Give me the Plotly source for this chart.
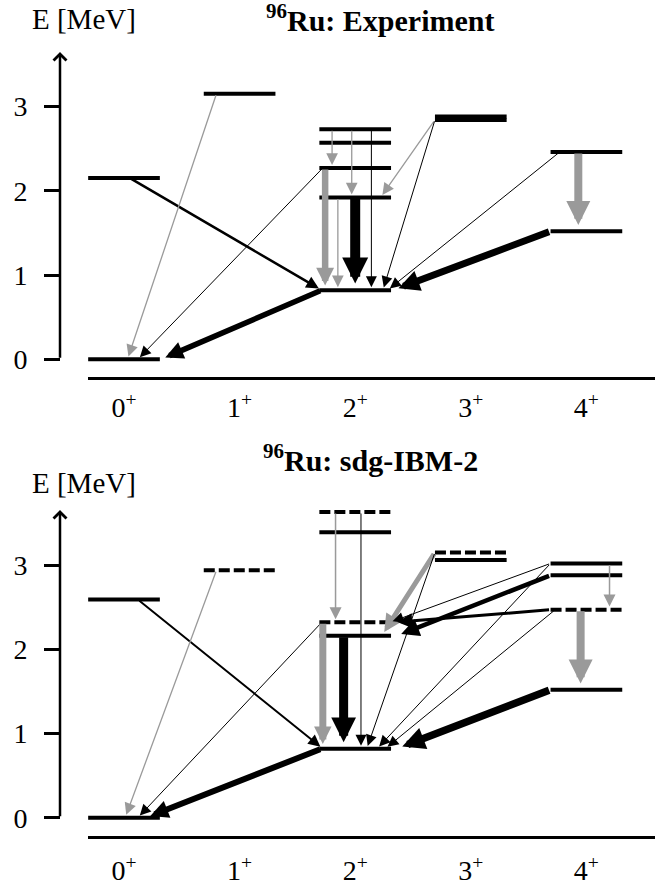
import plotly.graph_objects as go

W, H = 655, 886
FONT = "Liberation Serif, Times New Roman, Times, serif"
GRAY = "#9a9a9a"

# ---------------- data ----------------
spin_values = [0, 1, 2, 3, 4]
spin_labels = ["0<sup>+</sup>", "1<sup>+</sup>", "2<sup>+</sup>", "3<sup>+</sup>", "4<sup>+</sup>"]
energy_ticks = [0, 1, 2, 3]
energy_tick_labels = ["0", "1", "2", "3"]

titles = ["<b><sup>96</sup>Ru: Experiment</b>", "<b><sup>96</sup>Ru: sdg-IBM-2</b>"]
axis_title = "E [MeV]"

# Experiment: level spin (column) and energy (MeV)
exp_spin = [0, 0, 1, 2, 2, 2, 2, 2, 3, 3, 4, 4]
exp_energy = [0.00, 2.15, 3.15, 0.82, 1.92, 2.27, 2.57, 2.73, 2.84, 2.88, 1.52, 2.46]
exp_dashed = [False] * 12

# Experiment transitions (level indices)
exp_from = [1, 2, 3, 5, 5, 4, 7, 7, 7, 4, 8, 8, 11, 11, 10]
exp_to = [3, 0, 0, 0, 3, 3, 5, 4, 3, 3, 4, 3, 3, 10, 3]

# sdg-IBM-2: level spin and energy
ibm_spin = [0, 0, 1, 2, 2, 2, 2, 2, 3, 3, 4, 4, 4, 4]
ibm_energy = [0.00, 2.59, 2.94, 0.82, 2.16, 2.32, 3.39, 3.63, 3.06, 3.15, 1.52, 2.47, 2.88, 3.02]
ibm_dashed = [False, False, True, False, False, True, False, True, False, True, False, True, False, False]

ibm_from = [1, 2, 3, 5, 5, 4, 7, 7, 9, 9, 13, 12, 11, 13, 11, 13, 11, 10]
ibm_to = [3, 0, 0, 0, 3, 3, 5, 3, 4, 3, 5, 4, 5, 3, 3, 11, 10, 3]

# ---------------- styles ----------------
# (line width, colour key, start offset within level, end offset within level, head size)
exp_style = [
    (2.5, "k", 0.05, -0.29, 1.0),
    (1.3, "g", -0.20, 0.03, 1.8),
    (5.5, "k", -0.29, 0.32, 0.65),
    (1.0, "k", -0.28, 0.12, 2.2),
    (6.5, "g", -0.26, -0.26, 0.55),
    (10.0, "k", 0.0, 0.0, 0.52),
    (1.3, "g", -0.20, -0.20, 1.8),
    (1.3, "g", -0.03, -0.03, 1.8),
    (1.0, "k", 0.14, 0.14, 2.2),
    (1.3, "g", -0.15, -0.15, 1.8),
    (1.3, "g", -0.31, 0.22, 1.8),
    (1.0, "k", -0.31, 0.24, 2.2),
    (1.0, "k", -0.23, 0.28, 2.2),
    (8.0, "g", -0.07, -0.07, 0.6),
    (7.0, "k", -0.31, 0.33, 0.6),
]
ibm_style = [
    (2.0, "k", 0.12, -0.28, 1.2),
    (1.3, "g", -0.20, 0.01, 1.8),
    (6.0, "k", -0.29, 0.19, 0.6),
    (1.0, "k", -0.29, 0.12, 2.2),
    (7.0, "g", -0.28, -0.28, 0.5),
    (9.0, "k", -0.10, -0.10, 0.55),
    (1.5, "g", -0.17, -0.17, 1.6),
    (1.0, "k", 0.05, 0.05, 2.2),
    (5.0, "g", -0.31, 0.23, 0.7),
    (1.0, "k", -0.31, 0.10, 2.2),
    (1.0, "k", -0.31, 0.30, 2.2),
    (4.5, "k", -0.31, 0.36, 0.8),
    (3.0, "k", -0.31, 0.33, 1.0),
    (1.0, "k", -0.31, 0.19, 2.2),
    (1.0, "k", -0.27, 0.26, 2.2),
    (1.5, "g", 0.20, 0.20, 1.6),
    (8.0, "g", -0.05, -0.05, 0.6),
    (7.5, "k", -0.31, 0.36, 0.6),
]

HALF = 0.31  # half width of a level bar, in column units
LEVEL_W = 4

# layout geometry (pixels)
AX_X = 60
PLOT_L = 88
panels = [
    dict(top=40, bottom=377, zero=359.3, ppm=84.3, arrow_top=52, etitle_y=19, title_x=380,
         title_y=18, xstand=4),
    dict(top=500, bottom=836, zero=817.7, ppm=84.2, arrow_top=510, etitle_y=483, title_x=370,
         title_y=458, xstand=8),
]
col0_px, col_step = 124.0, 115.6

fig = go.Figure()

def py(p):
    return 1 - p / H

x_lo = -(col0_px - PLOT_L) / col_step
x_hi = x_lo + (W - PLOT_L) / col_step

datasets = [
    (exp_spin, exp_energy, exp_dashed, exp_from, exp_to, exp_style),
    (ibm_spin, ibm_energy, ibm_dashed, ibm_from, ibm_to, ibm_style),
]

annotations = []
for k, (spin, en, dashed, tf, tt, sty) in enumerate(datasets):
    pan = panels[k]
    xa = "x" if k == 0 else "x2"
    ya = "y" if k == 0 else "y2"
    # levels
    for dflag in (False, True):
        xs, ys = [], []
        for j, e, d in zip(spin, en, dashed):
            if d == dflag:
                xs += [j - HALF, j + HALF, None]
                ys += [e, e, None]
        if xs:
            fig.add_trace(go.Scatter(
                x=xs, y=ys, mode="lines", xaxis=xa, yaxis=ya,
                line=dict(color="black", width=LEVEL_W, dash="11px,4px" if dflag else "solid"),
                hoverinfo="skip", showlegend=False))
    # transitions
    for a, b, (w, c, o0, o1, s) in zip(tf, tt, sty):
        annotations.append(dict(
            x=spin[b] + o1, y=en[b], ax=spin[a] + o0, ay=en[a],
            xref=xa, yref=ya, axref=xa, ayref=ya, text="", showarrow=True,
            arrowhead=2, arrowwidth=w, arrowsize=s, standoff=1.3 * w * s,
            arrowcolor=GRAY if c == "g" else "black"))
    # energy axis line with arrow
    e_top = (pan["zero"] - pan["arrow_top"]) / pan["ppm"]
    annotations.append(dict(
        x=AX_X / W, y=e_top, xref="paper", yref=ya, ax=0, ay=0, axref="pixel", ayref=ya,
        text="", showarrow=True, arrowhead=4, arrowwidth=2.5, arrowsize=1.0, arrowcolor="black"))
    annotations.append(dict(
        x=84 / W, y=py(pan["etitle_y"]), xref="paper", yref="paper", text=axis_title,
        showarrow=False, xanchor="center", yanchor="middle",
        font=dict(family=FONT, size=29, color="black")))
    annotations.append(dict(
        x=pan["title_x"] / W, y=py(pan["title_y"]), xref="paper", yref="paper", text=titles[k],
        showarrow=False, xanchor="center", yanchor="middle",
        font=dict(family=FONT, size=30, color="black")))

def yrange(pan):
    return [-(pan["bottom"] - pan["zero"]) / pan["ppm"], (pan["zero"] - pan["top"]) / pan["ppm"]]

common_x = dict(range=[x_lo, x_hi], domain=[PLOT_L / W, 1], showgrid=False, zeroline=False,
                showline=True, linewidth=2.5, linecolor="black", ticks="",
                tickvals=spin_values, ticktext=spin_labels,
                tickfont=dict(family=FONT, size=28, color="black"), fixedrange=True)
common_y = dict(anchor="free", position=AX_X / W, showgrid=False, zeroline=False, showline=False,
                ticks="outside", ticklen=16, tickwidth=2.5, tickcolor="black",
                tickvals=energy_ticks, ticktext=energy_tick_labels, ticklabelstandoff=11,
                tickfont=dict(family=FONT, size=28, color="black"), fixedrange=True)

fig.update_layout(
    width=W, height=H, margin=dict(l=0, r=0, t=0, b=0),
    paper_bgcolor="white", plot_bgcolor="white", showlegend=False,
    xaxis=dict(common_x, anchor="y", ticklabelstandoff=panels[0]["xstand"]),
    yaxis=dict(common_y, domain=[py(panels[0]["bottom"]), py(panels[0]["top"])], range=yrange(panels[0])),
    xaxis2=dict(common_x, anchor="y2", ticklabelstandoff=panels[1]["xstand"]),
    yaxis2=dict(common_y, domain=[py(panels[1]["bottom"]), py(panels[1]["top"])], range=yrange(panels[1])),
    annotations=annotations,
)

fig.write_html("out.html", config={"displayModeBar": False},
               post_script="document.body.style.margin='0';")
